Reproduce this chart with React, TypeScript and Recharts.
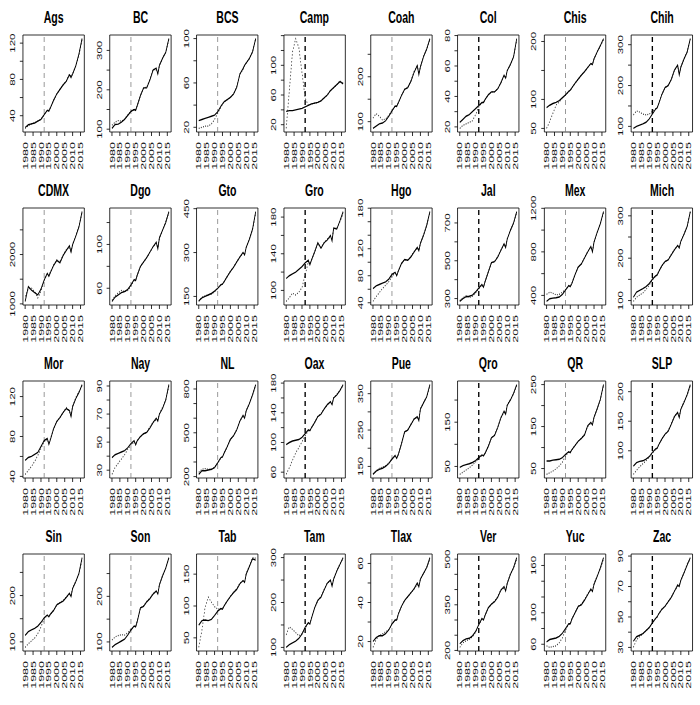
import { LineChart, Line, XAxis, YAxis, ReferenceLine, ReferenceArea } from 'recharts';

// sample years shared by every state
const years = [1980, 1982, 1984, 1986, 1988, 1990, 1992, 1994, 1995, 1996, 1998, 2000, 2002, 2004, 2006, 2008, 2009, 2010, 2012, 2014, 2016];
const xTicks = [1980, 1985, 1990, 1995, 2000, 2005, 2010, 2015];
const breakYear = 1992;

// observed (solid) and synthetic (dotted) series per state
const ags = [27, 30, 31, 32, 34, 36, 41, 46, 45, 49, 57, 64, 69, 74, 78, 85, 82, 86, 95, 108, 125];
const agsSyn = [26, 29, 31, 32, 34, 36, 41, 46, 46, 49, 57, 64, 69, 74, 78, 86, 83, 86, 95, 107, 124];
const bc = [102, 112, 113, 118, 125, 135, 145, 150, 148, 160, 185, 205, 205, 225, 250, 255, 240, 262, 280, 295, 330];
const bcSyn = [110, 118, 122, 120, 126, 136, 145, 150, 150, 160, 185, 205, 207, 227, 252, 250, 242, 262, 280, 296, 328];
const bcs = [26, 27, 28, 29, 30, 31, 34, 39, 41, 43, 45, 47, 50, 56, 68, 73, 76, 78, 82, 88, 100];
const bcsSyn = [19, 20, 21, 21, 23, 27, 33, 38, 41, 43, 45, 47, 50, 57, 68, 72, 76, 78, 82, 88, 100];
const camp = [38, 39, 39, 40, 41, 42, 44, 46, 47, 48, 49, 50, 52, 56, 60, 66, 68, 70, 74, 78, 75];
const campSyn = [15, 66, 118, 136, 124, 90, 56, 46, 47, 48, 49, 50, 52, 56, 60, 66, 68, 70, 74, 79, 76];
const coah = [85, 90, 95, 97, 102, 112, 124, 135, 134, 142, 158, 172, 176, 190, 210, 225, 205, 222, 245, 262, 285];
const coahSyn = [108, 118, 112, 104, 106, 114, 125, 134, 135, 142, 158, 172, 176, 191, 212, 224, 207, 222, 246, 262, 284];
const col = [23, 25, 27, 28, 30, 32, 34, 36, 36, 38, 41, 43, 43, 45, 49, 54, 52, 57, 61, 66, 78];
const colSyn = [19, 21, 22, 23, 24, 28, 33, 36, 36, 38, 41, 43, 43, 45, 49, 54, 52, 57, 61, 66, 77];
const chis = [86, 90, 93, 95, 98, 103, 108, 114, 116, 120, 128, 135, 142, 148, 155, 162, 160, 170, 182, 193, 205];
const chisSyn = [50, 62, 76, 90, 96, 102, 108, 114, 116, 120, 128, 135, 142, 148, 155, 162, 161, 170, 182, 192, 203];
const chih = [95, 100, 103, 106, 110, 118, 130, 142, 145, 155, 178, 195, 200, 215, 238, 250, 226, 245, 265, 282, 315];
const chihSyn = [128, 138, 135, 130, 128, 130, 137, 143, 146, 155, 178, 195, 201, 215, 238, 248, 228, 245, 266, 283, 313];

const cdmx = [1050, 1350, 1280, 1230, 1180, 1300, 1480, 1620, 1560, 1640, 1780, 1880, 1830, 1980, 2080, 2180, 2050, 2200, 2370, 2560, 2870];
const cdmxSyn = [1150, 1300, 1320, 1250, 1120, 1250, 1470, 1610, 1570, 1650, 1790, 1890, 1850, 1990, 2100, 2150, 2060, 2210, 2380, 2570, 2850];
const dgo = [48, 52, 54, 56, 57, 59, 63, 68, 67, 72, 80, 84, 88, 93, 98, 102, 96, 106, 113, 120, 130];
const dgoSyn = [49, 53, 56, 58, 57, 58, 62, 67, 68, 72, 80, 84, 88, 93, 98, 101, 97, 106, 113, 121, 129];
const gto = [135, 145, 150, 155, 160, 168, 178, 190, 192, 200, 218, 235, 250, 268, 285, 300, 292, 318, 345, 380, 440];
const gtoSyn = [133, 147, 152, 156, 158, 166, 177, 189, 193, 200, 218, 236, 250, 268, 285, 298, 294, 318, 346, 378, 436];
const gro = [113, 116, 118, 120, 123, 126, 130, 133, 128, 133, 142, 152, 146, 152, 155, 160, 154, 168, 167, 176, 186];
const groSyn = [88, 92, 97, 95, 98, 103, 117, 131, 129, 133, 142, 151, 147, 152, 156, 158, 156, 167, 168, 175, 184];
const hgo = [61, 65, 67, 69, 71, 75, 82, 85, 80, 87, 98, 104, 103, 108, 115, 122, 117, 128, 140, 155, 175];
const hgoSyn = [42, 49, 55, 61, 66, 71, 79, 84, 81, 87, 98, 104, 103, 109, 116, 121, 118, 128, 141, 155, 174];
const jal = [285, 300, 310, 312, 318, 335, 355, 375, 360, 390, 440, 490, 495, 520, 555, 590, 570, 615, 660, 700, 760];
const jalSyn = [290, 305, 315, 305, 312, 330, 352, 372, 362, 390, 440, 488, 497, 522, 557, 588, 572, 616, 662, 698, 755];
const mex = [345, 370, 375, 378, 385, 410, 450, 490, 480, 510, 590, 660, 690, 745, 800, 850, 800, 890, 980, 1060, 1170];
const mexSyn = [410, 430, 420, 405, 410, 430, 455, 488, 484, 512, 592, 662, 688, 748, 802, 845, 805, 892, 982, 1058, 1160];
const mich = [108, 120, 124, 128, 133, 140, 150, 158, 160, 168, 182, 192, 196, 208, 220, 230, 224, 240, 256, 275, 310];
const michSyn = [98, 108, 113, 118, 126, 136, 149, 157, 161, 168, 182, 192, 197, 209, 221, 229, 226, 240, 257, 275, 309];

const mor = [56, 59, 60, 62, 64, 70, 76, 78, 72, 77, 88, 95, 99, 104, 108, 106, 100, 110, 118, 124, 132];
const morSyn = [42, 46, 50, 55, 61, 68, 75, 77, 73, 78, 88, 95, 99, 104, 109, 105, 101, 110, 119, 125, 131];
const nay = [39, 41, 42, 43, 44, 46, 49, 51, 48, 51, 54, 56, 57, 60, 64, 67, 65, 70, 74, 80, 91];
const naySyn = [27, 32, 35, 38, 41, 45, 48, 50, 49, 51, 54, 56, 57, 61, 64, 66, 66, 70, 75, 80, 90];
const nl = [215, 240, 240, 245, 250, 262, 295, 330, 335, 360, 405, 455, 480, 520, 580, 620, 600, 650, 700, 760, 830];
const nlSyn = [230, 250, 255, 250, 248, 265, 292, 328, 336, 360, 405, 453, 482, 522, 582, 615, 603, 652, 702, 758, 825];
const oax = [97, 100, 102, 103, 104, 107, 112, 117, 116, 120, 127, 135, 138, 145, 151, 155, 151, 160, 164, 170, 178];
const oaxSyn = [57, 66, 76, 86, 93, 101, 109, 116, 116, 120, 127, 135, 139, 145, 151, 154, 152, 160, 165, 170, 177];
const pue = [128, 137, 142, 145, 150, 158, 170, 180, 172, 182, 212, 245, 250, 265, 280, 287, 276, 308, 325, 342, 375];
const pueSyn = [130, 138, 145, 148, 152, 160, 170, 178, 174, 183, 212, 244, 251, 266, 281, 284, 279, 309, 326, 341, 372];
const qro = [48, 52, 54, 56, 59, 63, 70, 76, 74, 80, 95, 115, 120, 138, 160, 175, 168, 188, 200, 215, 235];
const qroSyn = [32, 37, 42, 47, 53, 60, 68, 75, 75, 80, 95, 114, 121, 139, 161, 172, 170, 189, 201, 214, 233];
const qr = [68, 68, 70, 71, 72, 76, 84, 90, 88, 95, 105, 115, 122, 130, 152, 160, 154, 172, 192, 215, 250];
const qrSyn = [36, 40, 44, 49, 56, 65, 80, 89, 89, 95, 105, 115, 122, 132, 150, 158, 156, 172, 193, 214, 248];
const slp = [74, 80, 82, 83, 86, 90, 97, 103, 104, 110, 120, 128, 133, 145, 158, 165, 156, 170, 182, 195, 212];
const slpSyn = [60, 67, 73, 78, 83, 89, 96, 102, 105, 110, 120, 128, 134, 146, 159, 163, 158, 171, 183, 194, 210];

const sin = [114, 122, 126, 129, 134, 142, 152, 158, 154, 160, 168, 180, 184, 188, 196, 205, 198, 215, 230, 248, 282];
const sinSyn = [88, 96, 102, 108, 118, 132, 150, 157, 155, 160, 168, 180, 185, 189, 197, 203, 200, 216, 231, 247, 278];
const son = [88, 94, 98, 102, 106, 115, 126, 135, 133, 145, 175, 178, 188, 195, 205, 212, 205, 225, 245, 262, 285];
const sonSyn = [104, 111, 114, 116, 115, 120, 128, 134, 134, 146, 174, 179, 189, 196, 206, 210, 207, 226, 246, 262, 283];
const tab = [70, 77, 78, 77, 79, 85, 92, 96, 95, 100, 108, 115, 121, 126, 135, 140, 137, 150, 162, 174, 172];
const tabSyn = [35, 62, 98, 114, 106, 99, 95, 96, 96, 100, 108, 115, 122, 127, 136, 139, 138, 151, 163, 176, 175];
const tam = [100, 106, 110, 114, 120, 130, 145, 155, 152, 165, 188, 205, 212, 228, 243, 250, 236, 252, 270, 285, 300];
const tamSyn = [128, 146, 140, 133, 126, 130, 143, 154, 153, 165, 188, 204, 213, 229, 244, 248, 238, 253, 271, 286, 298];
const tlax = [20, 22, 23, 23, 24, 26, 29, 31, 31, 34, 38, 41, 43, 45, 47, 50, 48, 52, 55, 58, 63];
const tlaxSyn = [17, 21, 23, 24, 25, 26, 29, 31, 31, 34, 38, 41, 43, 45, 47, 49, 49, 52, 55, 58, 62];
const ver = [222, 232, 238, 240, 248, 262, 285, 305, 300, 315, 340, 352, 360, 375, 398, 410, 395, 420, 450, 472, 505];
const verSyn = [210, 225, 232, 236, 245, 260, 283, 303, 302, 316, 340, 351, 362, 377, 400, 405, 399, 421, 452, 470, 500];
const yuc = [63, 66, 67, 68, 70, 74, 80, 86, 86, 92, 100, 108, 110, 116, 123, 130, 127, 136, 146, 157, 170];
const yucSyn = [58, 56, 57, 58, 62, 68, 78, 85, 86, 92, 100, 108, 111, 117, 124, 129, 128, 137, 147, 156, 168];
const zac = [34, 37, 38, 39, 41, 43, 46, 49, 50, 52, 55, 57, 60, 63, 67, 71, 70, 74, 79, 84, 89];
const zacSyn = [30, 35, 37, 39, 41, 43, 46, 49, 50, 52, 55, 57, 60, 63, 67, 70, 71, 74, 79, 85, 88];

// states whose break line is drawn dark
const darkBreak = ['Camp', 'Col', 'Chih', 'Gro', 'Jal', 'Mich', 'Oax', 'Qro', 'SLP', 'Tam', 'Ver', 'Zac'];

const panels = [
  { name: 'Ags', obs: ags, syn: agsSyn, ticks: [40, 60, 80, 100, 120], labels: [40, 80, 120] },
  { name: 'BC', obs: bc, syn: bcSyn, ticks: [100, 150, 200, 250, 300], labels: [100, 200, 300] },
  { name: 'BCS', obs: bcs, syn: bcsSyn, ticks: [20, 40, 60, 80, 100], labels: [20, 60, 100] },
  { name: 'Camp', obs: camp, syn: campSyn, ticks: [20, 40, 60, 80, 100, 120, 140], labels: [20, 60, 100] },
  { name: 'Coah', obs: coah, syn: coahSyn, ticks: [100, 150, 200, 250], labels: [100, 200] },
  { name: 'Col', obs: col, syn: colSyn, ticks: [20, 30, 40, 50, 60, 70, 80], labels: [20, 40, 60, 80] },
  { name: 'Chis', obs: chis, syn: chisSyn, ticks: [50, 100, 150, 200], labels: [50, 100, 200] },
  { name: 'Chih', obs: chih, syn: chihSyn, ticks: [100, 150, 200, 250, 300], labels: [100, 200, 300] },
  { name: 'CDMX', obs: cdmx, syn: cdmxSyn, ticks: [1000, 1500, 2000, 2500], labels: [1000, 2000] },
  { name: 'Dgo', obs: dgo, syn: dgoSyn, ticks: [60, 80, 100, 120], labels: [60, 100] },
  { name: 'Gto', obs: gto, syn: gtoSyn, ticks: [150, 300, 450], labels: [150, 300, 450] },
  { name: 'Gro', obs: gro, syn: groSyn, ticks: [100, 120, 140, 160, 180], labels: [100, 140, 180] },
  { name: 'Hgo', obs: hgo, syn: hgoSyn, ticks: [40, 60, 80, 100, 120, 140, 160, 180], labels: [40, 80, 120, 180] },
  { name: 'Jal', obs: jal, syn: jalSyn, ticks: [300, 400, 500, 600, 700], labels: [300, 500, 700] },
  { name: 'Mex', obs: mex, syn: mexSyn, ticks: [400, 600, 800, 1000, 1200], labels: [400, 800, 1200] },
  { name: 'Mich', obs: mich, syn: michSyn, ticks: [100, 150, 200, 250, 300], labels: [100, 200, 300] },
  { name: 'Mor', obs: mor, syn: morSyn, ticks: [40, 60, 80, 100, 120], labels: [40, 80, 120] },
  { name: 'Nay', obs: nay, syn: naySyn, ticks: [30, 40, 50, 60, 70, 80, 90], labels: [30, 50, 70, 90] },
  { name: 'NL', obs: nl, syn: nlSyn, ticks: [200, 300, 400, 500, 600, 700, 800], labels: [200, 500, 800] },
  { name: 'Oax', obs: oax, syn: oaxSyn, ticks: [60, 80, 100, 120, 140, 160, 180], labels: [60, 100, 140, 180] },
  { name: 'Pue', obs: pue, syn: pueSyn, ticks: [150, 200, 250, 300, 350], labels: [150, 250, 350] },
  { name: 'Qro', obs: qro, syn: qroSyn, ticks: [50, 100, 150, 200], labels: [50, 150] },
  { name: 'QR', obs: qr, syn: qrSyn, ticks: [50, 100, 150, 200, 250], labels: [50, 150, 250] },
  { name: 'SLP', obs: slp, syn: slpSyn, ticks: [100, 150, 200], labels: [100, 150, 200] },
  { name: 'Sin', obs: sin, syn: sinSyn, ticks: [100, 150, 200, 250], labels: [100, 200] },
  { name: 'Son', obs: son, syn: sonSyn, ticks: [100, 150, 200, 250], labels: [100, 200] },
  { name: 'Tab', obs: tab, syn: tabSyn, ticks: [50, 100, 150], labels: [50, 100, 150] },
  { name: 'Tam', obs: tam, syn: tamSyn, ticks: [100, 150, 200, 250, 300], labels: [100, 200, 300] },
  { name: 'Tlax', obs: tlax, syn: tlaxSyn, ticks: [20, 30, 40, 50, 60], labels: [20, 40, 60] },
  { name: 'Ver', obs: ver, syn: verSyn, ticks: [200, 250, 300, 350, 400, 450, 500], labels: [200, 350, 500] },
  { name: 'Yuc', obs: yuc, syn: yucSyn, ticks: [60, 80, 100, 120, 140, 160], labels: [60, 100, 160] },
  { name: 'Zac', obs: zac, syn: zacSyn, ticks: [30, 40, 50, 60, 70, 80, 90], labels: [30, 50, 70, 90] },
];

// the original picture is squeezed horizontally; draw wide, then scale
const SQUEEZE = 0.62;
const COL_STEP = 140.2;
const ROW_STEP = 173;
const X_LO = 1978.6;
const X_HI = 2017.4;
const FONT = 'Liberation Sans, Arial, sans-serif';

const YTick = (props: any) => {
  const { x, y, payload, labels } = props;
  if (!labels.includes(payload.value)) return <g />;
  const cx = x - 10;
  return (
    <text x={cx} y={y} transform={`rotate(-90 ${cx} ${y})`} textAnchor="middle" dominantBaseline="central"
      fontSize={11.5} fontFamily={FONT} fill="#111">
      {payload.value}
    </text>
  );
};

const XTick = (props: any) => {
  const { x, y, payload } = props;
  const ty = y + 4;
  return (
    <text x={x} y={ty} transform={`rotate(-90 ${x} ${ty})`} textAnchor="end" dominantBaseline="central"
      fontSize={12.5} fontFamily={FONT} fill="#111">
      {payload.value}
    </text>
  );
};

const Panel = ({ p, idx }: { p: typeof panels[number]; idx: number }) => {
  const row = Math.floor(idx / 8);
  const colIdx = idx % 8;
  const data = years.map((year, i) => ({ year, obs: p.obs[i], syn: p.syn[i] }));
  const all = [...p.obs, ...p.syn];
  const mn = Math.min(...all);
  const mx = Math.max(...all);
  const pad = (mx - mn) * 0.04;
  const lo = mn - pad;
  const hi = mx + pad;
  const ticks = p.ticks.filter((t) => t >= lo && t <= hi);
  const dark = darkBreak.includes(p.name);

  return (
    <div style={{ position: 'absolute', left: colIdx * COL_STEP, top: row * ROW_STEP, width: 142, height: 176 }}>
      <div style={{ position: 'absolute', left: 37, top: 7, width: 99, textAlign: 'center', fontFamily: FONT,
        fontWeight: 'bold', fontSize: 17, lineHeight: '22px' }}>{p.name}</div>
      <LineChart width={142} height={176} data={data} margin={{ top: 35, right: 6, bottom: 4, left: 7 }}>
        <XAxis dataKey="year" type="number" domain={[X_LO, X_HI]} ticks={xTicks} interval={0} height={40}
          axisLine={false} tickSize={4} tickLine={{ stroke: '#000' }} tick={<XTick />} allowDataOverflow />
        <YAxis type="number" domain={[lo, hi]} ticks={ticks} interval={0} width={30} axisLine={false}
          tickSize={5} tickLine={{ stroke: '#000' }} tick={(tp: any) => <YTick {...tp} labels={p.labels} />}
          allowDataOverflow />
        <ReferenceArea x1={X_LO} x2={X_HI} y1={lo} y2={hi} fill="none" stroke="#000" strokeWidth={1} fillOpacity={0} />
        <ReferenceLine x={breakYear} stroke={dark ? '#000' : '#777'} strokeWidth={dark ? 2.2 : 1.2} strokeDasharray="5 4" />
        <Line dataKey="syn" stroke="#333" strokeWidth={1.2} strokeDasharray="1.5 2" dot={false} isAnimationActive={false} />
        <Line dataKey="obs" stroke="#000" strokeWidth={1.4} dot={false} isAnimationActive={false} />
      </LineChart>
    </div>
  );
};

export default function App() {
  return (
    <div style={{ position: 'fixed', left: 0, top: 0, width: 700, height: 705, overflow: 'hidden', background: '#fff' }}>
      <div style={{ position: 'relative', width: 700 / SQUEEZE, height: 705, transform: `scaleX(${SQUEEZE})`, transformOrigin: '0 0' }}>
        {panels.map((p, i) => <Panel key={p.name} p={p} idx={i} />)}
      </div>
    </div>
  );
}
